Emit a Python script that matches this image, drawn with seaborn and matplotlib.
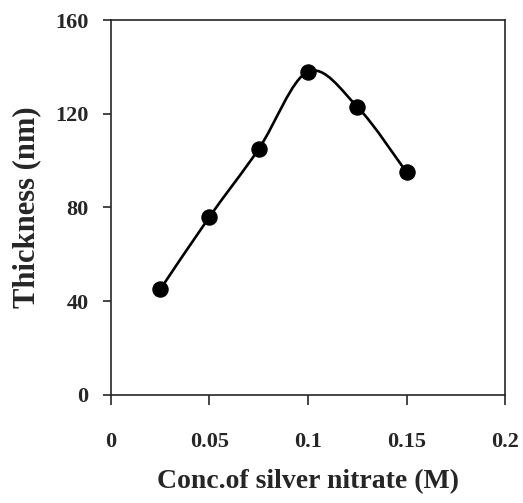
import numpy as np
import matplotlib
matplotlib.use("Agg")
import matplotlib.pyplot as plt
import seaborn as sns
from matplotlib.path import Path
from matplotlib.patches import PathPatch

conc = [0.025, 0.05, 0.075, 0.1, 0.125, 0.15]
thickness = [45, 76, 105, 138, 123, 95]
x_ticks = [0, 0.05, 0.1, 0.15, 0.2]
x_labels = ["0", "0.05", "0.1", "0.15", "0.2"]
y_ticks = [0, 40, 80, 120, 160]

sns.set_style("ticks")
plt.rcParams['font.family'] = ['Liberation Serif', 'DejaVu Serif']
plt.rcParams['font.weight'] = 'bold'

fig = plt.figure(figsize=(5.23, 5.03), dpi=100)
ax = fig.add_axes([0.212, 0.215, 0.754, 0.745])

# smoothed line like excel (bezier through the points)
x = np.array(conc)
y = np.array(thickness)
verts = [(x[0], y[0])]
codes = [Path.MOVETO]
n = len(x)
for i in range(n - 1):
    p0 = i - 1 if i > 0 else i
    p3 = i + 2 if i + 2 < n else i + 1
    c1 = (x[i] + (x[i + 1] - x[p0]) / 6, y[i] + (y[i + 1] - y[p0]) / 6)
    c2 = (x[i + 1] - (x[p3] - x[i]) / 6, y[i + 1] - (y[p3] - y[i]) / 6)
    verts += [c1, c2, (x[i + 1], y[i + 1])]
    codes += [Path.CURVE4] * 3
ax.add_patch(PathPatch(Path(verts, codes), fill=False, lw=1.9, color='black'))

sns.scatterplot(x=conc, y=thickness, ax=ax, color='black', s=120,
                edgecolor='black', zorder=3)

ax.set_xlim(0, 0.2)
ax.set_ylim(0, 160)
ax.set_xticks(x_ticks)
ax.set_xticklabels(x_labels)
ax.set_yticks(y_ticks)
for s in ax.spines.values():
    s.set_linewidth(1.2)
    s.set_visible(True)
ax.tick_params(axis='x', length=7, width=1.2, pad=20, labelsize=16, direction='out')
ax.tick_params(axis='y', length=6, width=1.2, pad=10, labelsize=16, direction='out')
ax.set_xlabel('Conc.of silver nitrate (M)', fontsize=20, fontweight='bold', labelpad=12)
ax.set_ylabel('Thickness (nm)', fontsize=22, fontweight='bold', labelpad=10)

fig.savefig('out.png', dpi=100)
